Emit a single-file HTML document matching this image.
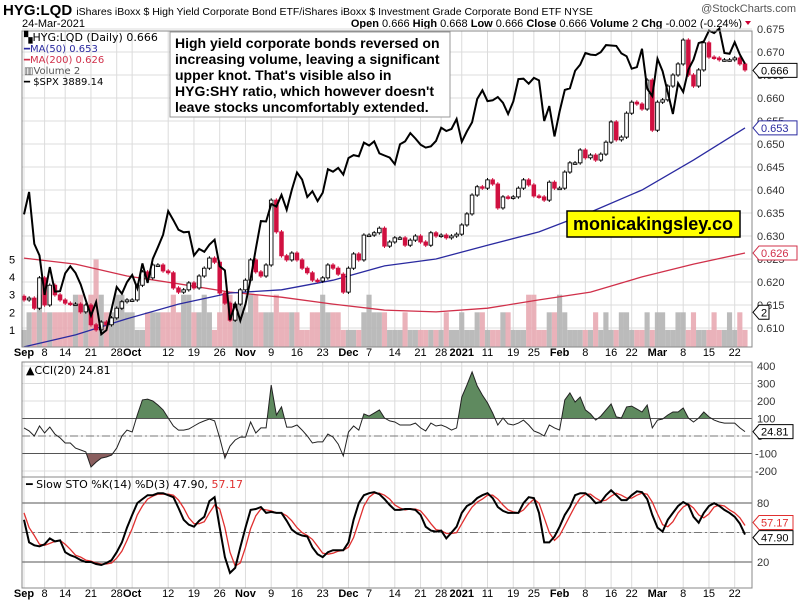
<!DOCTYPE html>
<html><head><meta charset="utf-8"><style>
body{margin:0;background:#fff;}
svg{display:block;font-family:"Liberation Sans",sans-serif;}
</style></head><body>
<svg id="chart" width="803" height="604" viewBox="0 0 803 604" xmlns="http://www.w3.org/2000/svg">
<rect width="803" height="604" fill="#fff"/>
<text x="3" y="15" font-size="15" font-weight="bold">HYG:LQD <tspan font-size="10.5" font-weight="normal">iShares iBoxx $ High Yield Corporate Bond ETF/iShares iBoxx $ Investment Grade Corporate Bond ETF  NYSE</tspan></text>
<text x="796" y="12" font-size="11" fill="#555" text-anchor="end">@StockCharts.com</text>
<text x="22" y="27" font-size="11">24-Mar-2021</text>
<text x="742" y="27" font-size="11" text-anchor="end"><tspan font-weight="bold">Open</tspan> 0.666 <tspan font-weight="bold">High</tspan> 0.668 <tspan font-weight="bold">Low</tspan> 0.666 <tspan font-weight="bold">Close</tspan> 0.666 <tspan font-weight="bold">Volume</tspan> 2 <tspan font-weight="bold">Chg</tspan> -0.002 (-0.24%)</text>
<path d="M745 21 L751 21 L748 25 Z" fill="#c03"/>
<g id="main"></g><g id="cci"></g><g id="sto"></g>
</svg>
<script>
const closes=[0.6161,0.6165,0.6143,0.6209,0.6150,0.6193,0.6172,0.6161,0.6154,0.6152,0.6152,0.6135,0.6150,0.6107,0.6096,0.6113,0.6107,0.6122,0.6143,0.6157,0.6161,0.6161,0.6193,0.6222,0.6209,0.6237,0.6237,0.6224,0.6220,0.6187,0.6178,0.6183,0.6198,0.6187,0.6213,0.6230,0.6252,0.6243,0.6176,0.6154,0.6117,0.6152,0.6183,0.6204,0.6248,0.6222,0.6213,0.6237,0.6378,0.6309,0.6257,0.6248,0.6263,0.6248,0.6230,0.6220,0.6204,0.6202,0.6209,0.6237,0.6230,0.6217,0.6178,0.6230,0.6261,0.6248,0.6302,0.6302,0.6307,0.6317,0.6278,0.6287,0.6296,0.6296,0.6280,0.6291,0.6300,0.6287,0.6280,0.6307,0.6300,0.6302,0.6296,0.6300,0.6304,0.6324,0.6348,0.6389,0.6407,0.6404,0.6422,0.6413,0.6361,0.6385,0.6383,0.6385,0.6404,0.6422,0.6411,0.6387,0.6385,0.6378,0.6417,0.6404,0.6404,0.6439,0.6459,0.6459,0.6487,0.6470,0.6476,0.6465,0.6478,0.6504,0.6548,0.6509,0.6515,0.6567,0.6591,0.6587,0.6576,0.6639,0.6530,0.6591,0.6596,0.6626,0.6650,0.6674,0.6726,0.6650,0.6626,0.6661,0.6720,0.6689,0.6687,0.6683,0.6683,0.6683,0.6687,0.6674,0.6661];
const spx=[3526,3580,3455,3427,3332,3399,3340,3341,3384,3401,3385,3357,3319,3282,3315,3237,3247,3298,3351,3335,3363,3380,3348,3408,3361,3419,3447,3477,3534,3512,3489,3483,3484,3427,3443,3436,3453,3465,3401,3391,3271,3310,3270,3310,3370,3443,3510,3509,3551,3545,3573,3537,3585,3627,3610,3568,3582,3558,3578,3635,3629,3638,3622,3662,3669,3666,3699,3692,3702,3673,3668,3663,3647,3695,3702,3722,3709,3694,3687,3690,3703,3735,3727,3732,3756,3701,3726,3748,3804,3825,3799,3801,3809,3795,3768,3798,3852,3853,3841,3855,3849,3751,3787,3714,3774,3826,3830,3872,3887,3915,3911,3910,3917,3934,3933,3932,3914,3907,3877,3881,3925,3829,3811,3901,3871,3820,3768,3842,3821,3875,3899,3939,3943,3969,3963,3974,3915,3913,3941,3911,3889];
const volume=[1,2,2,3,2,2,2,2,2,2,3,3,2,3,5,3,2,2,3,3,2, 2,1,1,2,2,2,2,2,3,2,3,3,2,2,3,2,1,2,3,3,2,3, 2,3,3,2,2,2,3,2,2,2,2,1,1,2,2,3,2,2,2,1, 1,1,1,2,3,2,2,2,1,1,1,2,1,1,1,1,1,1,1,2,1,1, 2,1,1,2,2,1,1,1,2,2,1,1,1,3,3,1,1,2,2, 3,2,1,1,1,1,1,2,1,2,1,1,2,2,1,1,1,2,1, 2,2,1,1,2,2,1,2,1,1,1,2,1,1,2,1,2,1];
const maIdx=[0,10,20,30,40,50,60,70,80,90,100,110,120,130,140];
const ma50=[0.6059,0.6085,0.6120,0.6152,0.6176,0.6183,0.6204,0.6235,0.6250,0.6280,0.6309,0.6352,0.6400,0.6465,0.6535];
const ma200=[0.6252,0.6239,0.6213,0.6196,0.6178,0.6167,0.6152,0.6139,0.6135,0.6143,0.6161,0.6178,0.6211,0.6239,0.6263];
const cci=[46,29,0,57,17,51,11,-11,-40,-40,-69,-80,-91,-177,-149,-126,-120,-109,-69,0,34,23,120,206,211,200,177,149,103,57,34,34,40,57,74,86,97,86,-11,-126,-57,-23,-6,-6,80,17,46,46,291,120,166,51,51,63,34,0,-40,-34,-34,11,-6,-46,-114,23,57,34,126,114,131,149,103,86,80,63,63,63,74,46,29,74,57,63,51,34,46,223,291,366,286,234,189,131,63,103,69,63,74,91,63,29,17,0,63,46,34,206,246,194,223,149,126,91,114,149,183,109,103,166,171,154,137,177,46,91,97,120,137,137,160,103,80,103,137,109,91,80,74,74,74,46,25];
const stoK=[63,40,37,36,38,44,41,42,30,27,25,22,20,20,18,17,19,22,30,40,55,68,80,84,88,88,90,90,88,86,75,63,58,56,62,66,82,86,55,25,9,14,35,55,73,74,76,70,71,70,70,62,53,49,47,46,35,28,25,30,32,32,32,40,63,80,88,90,91,89,84,78,73,73,74,74,73,68,56,52,51,52,44,50,56,70,77,80,85,88,90,85,76,72,70,70,70,80,86,85,70,40,40,46,56,68,76,88,90,90,86,80,81,88,93,88,83,83,88,92,91,84,68,55,51,63,70,77,81,78,66,60,70,77,80,77,73,70,66,59,47.9];
const stoD=[70,55,47,38,37,39,41,42,38,33,27,25,22,21,19,18,18,19,24,31,42,54,68,77,84,87,89,89,89,88,83,75,65,59,59,61,70,78,74,55,30,16,19,35,54,67,74,73,72,70,70,67,62,55,50,47,43,36,29,28,29,31,32,35,45,61,77,86,90,90,88,84,78,75,73,74,74,72,66,59,53,52,49,49,50,59,68,76,81,84,88,88,84,78,73,71,70,73,79,84,80,65,50,42,47,57,67,77,85,89,89,85,82,83,87,90,88,85,85,88,90,89,81,69,58,56,61,70,76,79,75,68,65,69,76,78,77,73,70,65,57.17];
const dateIdx=[0,4,8,13,18,21,28,33,38,43,48,53,58,63,67,72,77,81,85,90,95,99,104,109,114,118,123,128,133,138];
const dateLbl=["Sep","8","14","21","28","Oct","12","19","26","Nov","9","16","23","Dec","7","14","21","28","2021","11","19","25","Feb","8","16","22","Mar","8","15","22"];
const priceTicks=[0.675,0.670,0.665,0.660,0.655,0.650,0.645,0.640,0.635,0.630,0.625,0.620,0.615,0.610];
const volTicks=[1,2,3,4,5];
const cciTicks=[400,300,200,100,0,-100,-200];
const stoTicks=[80,50,20];

const NS="http://www.w3.org/2000/svg";
const L=22,R=752;
const X=i=>24+i*5.15;
const PY=v=>52+(0.670-v)*4600;
const SY=s=>192-(s-3580)*0.415;
const VY=v=>347.5-v*17.6;
const CY=v=>436-v*0.175;
const KY=v=>581.7-v*0.983;
function el(tag,attrs,parent,txt){const e=document.createElementNS(NS,tag);for(const k in attrs)e.setAttribute(k,attrs[k]);if(txt!==undefined)e.textContent=txt;parent.appendChild(e);return e;}
const main=document.getElementById('main'),cg=document.getElementById('cci'),sg=document.getElementById('sto');

function grid(g,top,bot,hy){
  dateIdx.forEach(i=>{const l=el('line',{x1:X(i),x2:X(i),y1:top,y2:bot,stroke:'#dcdcdc'},g);
  
  });
  hy.forEach(y=>{const l=el('line',{x1:L,x2:R,y1:y,y2:y,stroke:'#dcdcdc'},g);
  
  });
}
function dates(y){
  dateIdx.forEach((i,k)=>{const bold=isNaN(+dateLbl[k])||dateLbl[k]==="2021";
  const t=el('text',{x:X(i),y:y,'font-size':11,'text-anchor':'middle','font-weight':bold?'bold':'normal'},main,dateLbl[k]);
  
  });
}
function tag(g,y,txt,color,w){
  const p=el('path',{d:`M${R+1} ${y} L${R+7} ${y-7} L${R+7+w} ${y-7} L${R+7+w} ${y+7} L${R+7} ${y+7} Z`,fill:'#fff',stroke:color},g);
  
  
  const t=el('text',{x:R+9,y:y+4,'font-size':11,fill:color},g,txt);
  
  
}

// ---------- main panel ----------
grid(main,31,347,priceTicks.map(PY));
priceTicks.forEach(v=>{const t=el('text',{x:757,y:PY(v)+4,'font-size':11,fill:'#333'},main,v.toFixed(3));

});
volTicks.forEach(v=>{const t=el('text',{x:12,y:VY(v)+4,'font-size':11,'text-anchor':'middle'},main,v);

});
volume.forEach((v,i)=>{const down=i>0&&closes[i]<closes[i-1];
  const b=el('rect',{x:X(i)-2.6,y:VY(v),width:5.15,height:347.5-VY(v),fill:down?'#e8aab3':'#b4b4b4',opacity:0.9},main);
  
  });
function maPath(arr){return arr.map((v,k)=>(k?'L':'M')+X(maIdx[k]).toFixed(1)+' '+PY(v).toFixed(1)).join(' ');}
const m2=el('path',{d:maPath(ma200),fill:'none',stroke:'#d0304a','stroke-width':1.3},main);


const m5=el('path',{d:maPath(ma50),fill:'none',stroke:'#2a2aa0','stroke-width':1.3},main);


closes.forEach((c,i)=>{const o=i?closes[i-1]:c+0.0008;const up=c>=o;
  const col=up?'#000':'#d01040';const hi=Math.max(o,c)+0.0004,lo=Math.min(o,c)-0.0004;
  const w=el('line',{x1:X(i),x2:X(i),y1:PY(hi),y2:PY(lo),stroke:col},main);
  
  
  const top=PY(Math.max(o,c)),h=Math.max(1.5,PY(Math.min(o,c))-top);
  const b=el('rect',{x:X(i)-1.8,y:top,width:3.6,height:h,fill:up?'#fff':col,stroke:col,'stroke-width':0.9},main);
  
  });
const sp=el('path',{d:spx.map((v,i)=>(i?'L':'M')+X(i).toFixed(1)+' '+SY(v).toFixed(1)).join(' '),fill:'none',stroke:'#000','stroke-width':2},main);


const mb=el('rect',{x:L,y:31,width:R-L,height:316,fill:'none',stroke:'#888'},main);


tag(main,PY(0.666),'0.666','#000',38);
tag(main,PY(0.6535),'0.653','#2a2aa0',38);
tag(main,PY(0.6263),'0.626','#d0304a',38);
tag(main,VY(2),'2','#000',10);
dates(356);
const lg=[["▚HYG:LQD (Daily) 0.666","#000",41,11],["━MA(50) 0.653","#2a2aa0",52,10],["━MA(200) 0.626","#d0304a",63,10],["▥Volume 2","#555",74,10],["━ $SPX 3889.14","#000",85,10]];
lg.forEach(r=>{const t=el('text',{x:24,y:r[2],'font-size':r[3],fill:r[1],'font-family':'"DejaVu Sans",sans-serif'},main,r[0]);

});
const ab=el('rect',{x:170,y:32,width:280,height:85,fill:'#fff',stroke:'#999'},main);


["High yield corporate bonds reversed on","increasing volume, leaving a significant","upper knot. That's visible also in","HYG:SHY ratio, which however doesn't","leave stocks uncomfortably extended."].forEach((s,k)=>{
  const t=el('text',{x:175,y:48+k*16,'font-size':14,'font-weight':'bold'},main,s);
  
  });
const wb=el('rect',{x:567,y:211,width:173,height:26,fill:'#ffff00',stroke:'#000','stroke-width':1.5},main);


const wt=el('text',{x:653,y:230,'font-size':18,'font-weight':'bold','text-anchor':'middle',textLength:160,lengthAdjust:'spacingAndGlyphs'},main,'monicakingsley.co');



// ---------- CCI panel ----------
grid(cg,362,477,cciTicks.map(CY));
const cpts=cci.map((v,i)=>[X(i),CY(v)]);
const line=cpts.map((p,i)=>(i?'L':'M')+p[0].toFixed(1)+' '+p[1].toFixed(1)).join(' ');
const defs=el('defs',{},cg);
const c1=el('clipPath',{id:'above'},defs);el('rect',{x:L,y:362,width:R-L,height:CY(100)-362},c1);
const c2=el('clipPath',{id:'below'},defs);el('rect',{x:L,y:CY(-100),width:R-L,height:477-CY(-100)},c2);
const fa=el('path',{d:line+` L${X(cci.length-1)} ${CY(100)} L${X(0)} ${CY(100)} Z`,fill:'#5f8a5f','clip-path':'url(#above)'},cg);


const fb=el('path',{d:line+` L${X(cci.length-1)} ${CY(-100)} L${X(0)} ${CY(-100)} Z`,fill:'#8a5f5f','clip-path':'url(#below)'},cg);


[100,-100].forEach(v=>{const l=el('line',{x1:L,x2:R,y1:CY(v),y2:CY(v),stroke:'#555'},cg);

});
const z=el('line',{x1:L,x2:R,y1:CY(0),y2:CY(0),stroke:'#777','stroke-dasharray':'8,3,2,3'},cg);


const cl=el('path',{d:line,fill:'none',stroke:'#222','stroke-width':1},cg);


cciTicks.forEach(v=>{const t=el('text',{x:v<0?755:757,y:CY(v)+4,'font-size':11,fill:'#333'},cg,v);

});
const cb=el('rect',{x:L,y:362,width:R-L,height:115,fill:'none',stroke:'#888'},cg);


tag(cg,CY(24.81),'24.81','#000',34);
const ct=el('text',{x:26,y:374,'font-size':11,'font-family':'"DejaVu Sans",sans-serif'},cg,'▲CCI(20) 24.81');



// ---------- STO panel ----------
grid(sg,477,588,stoTicks.map(KY));
[80,20].forEach(v=>{const l=el('line',{x1:L,x2:R,y1:KY(v),y2:KY(v),stroke:'#555'},sg);

});
const m=el('line',{x1:L,x2:R,y1:KY(50),y2:KY(50),stroke:'#777','stroke-dasharray':'8,3,2,3'},sg);


const dl=el('path',{d:stoD.map((v,i)=>(i?'L':'M')+X(i).toFixed(1)+' '+KY(v).toFixed(1)).join(' '),fill:'none',stroke:'#e03030','stroke-width':1.3},sg);


const kl=el('path',{d:stoK.map((v,i)=>(i?'L':'M')+X(i).toFixed(1)+' '+KY(v).toFixed(1)).join(' '),fill:'none',stroke:'#000','stroke-width':2},sg);


[80,20].forEach(v=>{const t=el('text',{x:757,y:KY(v)+4,'font-size':11,fill:'#333'},sg,v);

});
const sb=el('rect',{x:L,y:477,width:R-L,height:111,fill:'none',stroke:'#888'},sg);


tag(sg,KY(57.17)-3,'57.17','#e03030',34);
tag(sg,KY(47.9)+3,'47.90','#000',34);
const st=el('text',{x:26,y:488,'font-size':11,'font-family':'"DejaVu Sans",sans-serif'},sg,'━ Slow STO %K(14) %D(3) 47.90, ');


el('tspan',{fill:'#e03030'},st,'57.17');
dates(597);
</script>
</body></html>
